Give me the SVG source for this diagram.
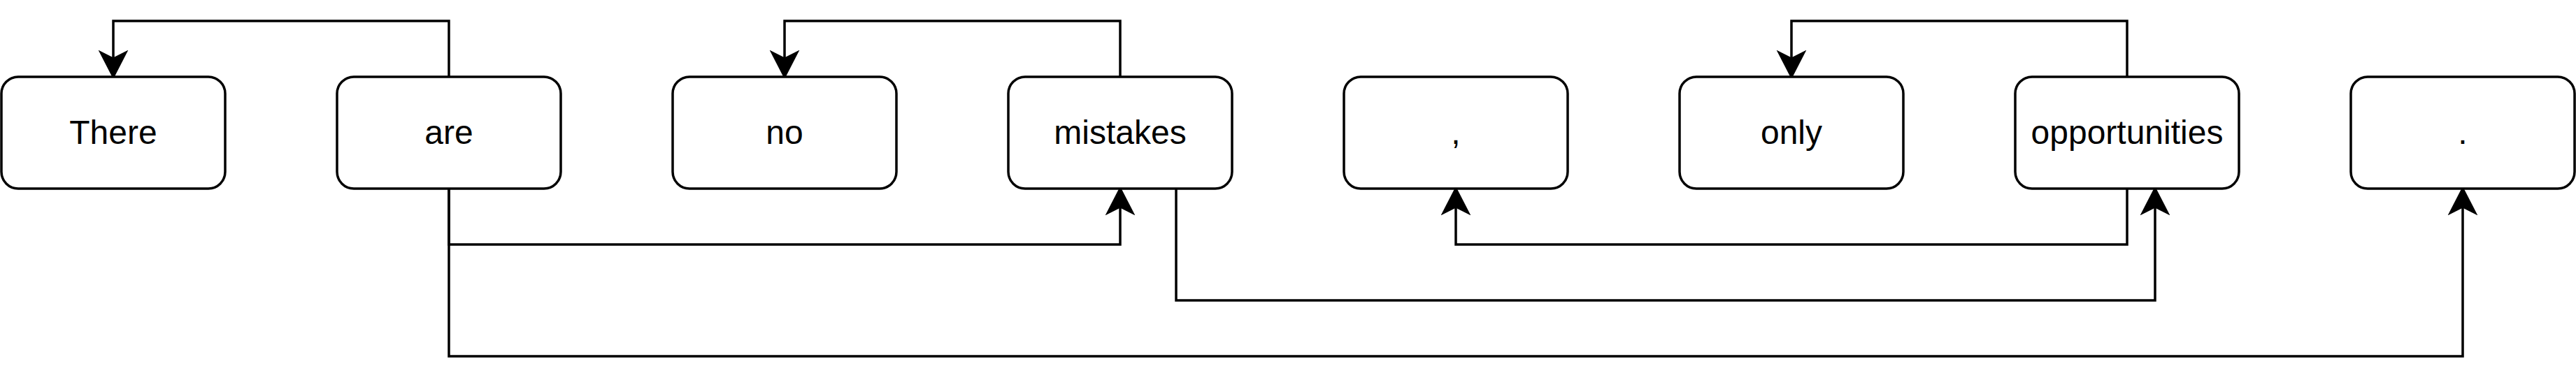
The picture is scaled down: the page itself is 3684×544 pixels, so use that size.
<svg xmlns="http://www.w3.org/2000/svg" width="3684" height="544" viewBox="0 0 3684 544">
<style>
.node rect{fill:#ffffff;stroke:#000000;stroke-width:3.5}
.node text{font-family:"Liberation Sans",Arial,Helvetica,sans-serif;font-size:48px;fill:#000000;text-anchor:middle}
.edge{fill:none;stroke:#000000;stroke-width:3.5;marker-end:url(#arrow)}
</style>
<defs>
<marker id="arrow" markerUnits="userSpaceOnUse" viewBox="-12 -22 44 44" markerWidth="44" markerHeight="44" refX="0" refY="0" orient="auto">
<path d="M26,0 L-9,-18 L0,0 L-9,18 Z" fill="#000000" stroke="#000000" stroke-width="3" stroke-linejoin="miter"/>
</marker>
</defs>
<rect width="3684" height="544" fill="#ffffff"/>
<g id="connectors">
<path class="edge" d="M642,110 V30 H162 V84"/>
<path class="edge" d="M1602,110 V30 H1122 V84"/>
<path class="edge" d="M3042,110 V30 H2562 V84"/>
<path class="edge" d="M642,270 V350 H1602 V296"/>
<path class="edge" d="M642,270 V510 H3522 V296"/>
<path class="edge" d="M1682,270 V430 H3082 V296"/>
<path class="edge" d="M3042,270 V350 H2082 V296"/>
</g>
<g id="node-there" class="node"><rect x="2" y="110" width="320" height="160" rx="24"/><text x="162" y="206">There</text></g>
<g id="node-are" class="node"><rect x="482" y="110" width="320" height="160" rx="24"/><text x="642" y="206">are</text></g>
<g id="node-no" class="node"><rect x="962" y="110" width="320" height="160" rx="24"/><text x="1122" y="206">no</text></g>
<g id="node-mistakes" class="node"><rect x="1442" y="110" width="320" height="160" rx="24"/><text x="1602" y="206">mistakes</text></g>
<g id="node-comma" class="node"><rect x="1922" y="110" width="320" height="160" rx="24"/><text x="2082" y="206">,</text></g>
<g id="node-only" class="node"><rect x="2402" y="110" width="320" height="160" rx="24"/><text x="2562" y="206">only</text></g>
<g id="node-opportunities" class="node"><rect x="2882" y="110" width="320" height="160" rx="24"/><text x="3042" y="206">opportunities</text></g>
<g id="node-period" class="node"><rect x="3362" y="110" width="320" height="160" rx="24"/><text x="3522" y="206">.</text></g>
</svg>
